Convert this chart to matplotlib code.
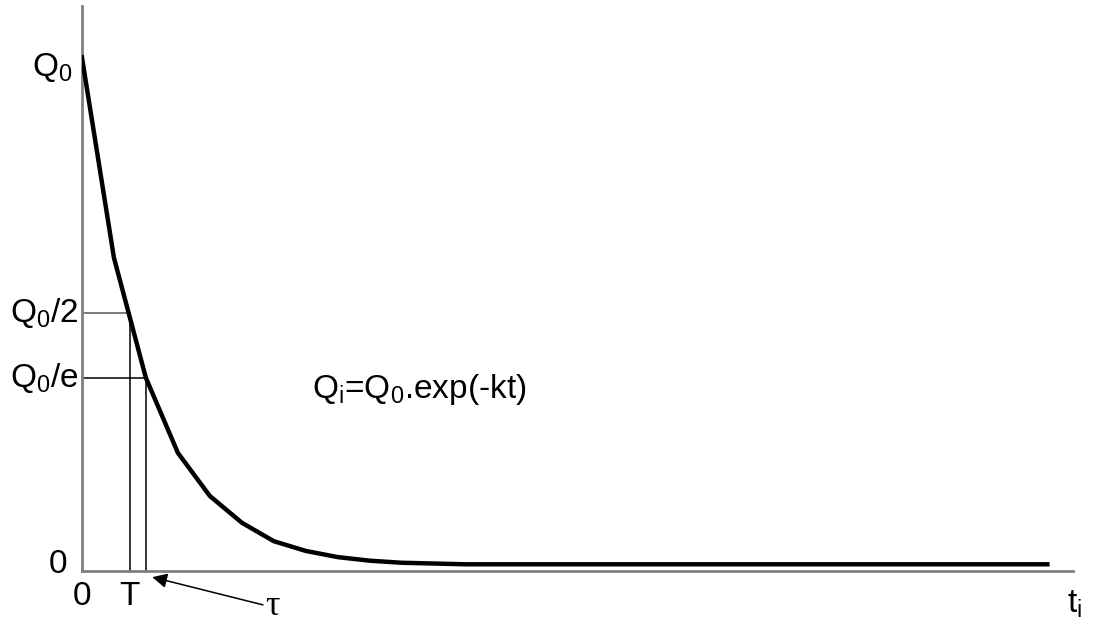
import numpy as np
import matplotlib
matplotlib.use('Agg')
import matplotlib.pyplot as plt

plt.rcParams['font.family'] = ['Liberation Sans', 'DejaVu Sans']
plt.rcParams['mathtext.fontset'] = 'custom'
plt.rcParams['mathtext.rm'] = 'Liberation Sans'
plt.rcParams['mathtext.it'] = 'Liberation Sans'

# Datos (Q / Q0 en cada paso de tiempo)
t_pasos = [0, 1, 2, 3, 4, 5, 6, 7, 8, 9, 10, 12, 30.2]
q_rel = [1.0, 0.61, 0.376, 0.23, 0.146, 0.094, 0.058, 0.039, 0.027, 0.02, 0.016, 0.013, 0.013]

# Marcas de referencia
t_medio = 1.5      # T (vida media)
q_medio = 0.503    # Q0/2
t_tau = 2.0        # tau
q_tau = 0.376      # Q0/e

fig = plt.figure(figsize=(11.09, 6.24), dpi=100)
ax = fig.add_axes([0.0739, 0.085, 0.8936, 0.9054])
ax.set_xlim(0, 31)
ax.set_ylim(0, 1.10)

# Curva principal
ax.plot(t_pasos, q_rel, color='black', linewidth=3.2, solid_joinstyle='miter', zorder=3)

# Lineas de referencia
ax.plot([0, t_medio], [q_medio, q_medio], color='#555555', linewidth=1.1)
ax.plot([t_medio, t_medio], [0, q_medio], color='black', linewidth=1.1)
ax.plot([0, t_tau], [q_tau, q_tau], color='black', linewidth=1.1)
ax.plot([t_tau, t_tau], [0, q_tau], color='black', linewidth=1.1)

# Ejes
for lado in ['top', 'right']:
    ax.spines[lado].set_visible(False)
for lado in ['left', 'bottom']:
    ax.spines[lado].set_color('#808080')
    ax.spines[lado].set_linewidth(2)
ax.set_xticks([])
ax.set_yticks([])

fs = 24
ax.text(-0.3, 0.98, r'$\mathregular{Q_0}$', ha='right', va='center', fontsize=fs)
ax.text(-0.12, q_medio, r'$\mathregular{Q_0/2}$', ha='right', va='center', fontsize=fs)
ax.text(-0.12, q_tau, r'$\mathregular{Q_0/e}$', ha='right', va='center', fontsize=fs)
ax.text(-0.45, 0.012, '0', ha='right', va='center', fontsize=fs)

ax.text(0, -0.05, '0', ha='center', va='center', fontsize=fs, clip_on=False)
ax.text(t_medio, -0.05, 'T', ha='center', va='center', fontsize=fs, clip_on=False)
ax.text(31.05, -0.065, r'$\mathregular{t_i}$', ha='center', va='center', fontsize=fs, clip_on=False)
ax.text(5.95, -0.07, 'τ', ha='center', va='center', fontsize=fs + 2,
        family='Liberation Serif', clip_on=False)

ax.annotate('', xy=(2.2, -0.012), xytext=(5.66, -0.066),
            arrowprops=dict(arrowstyle='-|>', color='black', lw=1.1,
                            mutation_scale=22, shrinkA=0, shrinkB=0),
            annotation_clip=False)

ax.text(7.2, 0.353, r'$\mathregular{Q_i}$=$\mathregular{Q_0}$.exp(-kt)',
        ha='left', va='center', fontsize=fs)

fig.savefig('out.png', dpi=100)
